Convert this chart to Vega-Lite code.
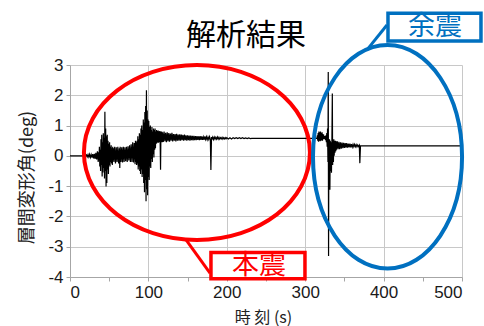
{
  "$schema": "https://vega.github.io/schema/vega-lite/v6.json",
  "autosize": "none",
  "width": 392,
  "height": 212,
  "padding": {"left": 70, "top": 65, "right": 22, "bottom": 49},
  "background": "white",
  "title": {"text": "解析結果", "font": "Noto Sans CJK JP", "fontSize": 30, "fontWeight": "normal", "color": "#000000", "frame": "group", "anchor": "middle", "dx": -20, "dy": 46, "offset": 6},
  "config": {
    "view": {"stroke": null},
    "axis": {
      "grid": true, "gridColor": "#c8c8c8", "gridWidth": 1, "domain": true, "domainColor": "#a6a6a6", "ticks": true, "tickColor": "#a6a6a6", "tickSize": 4,
      "labelFont": "Liberation Sans", "labelFontSize": 17, "labelColor": "#1a1a1a", "labelPadding": 3, "labelOverlap": false,
      "titleFont": "Noto Sans CJK JP", "titleFontWeight": "normal", "titleColor": "#222222"
    }
  },
  "datasets": {
    "wave": [
      {"t":0,"v":0},{"t":20,"v":0},{"t":21,"v":0.03},{"t":22,"v":-0.03},{"t":23,"v":0.04},{"t":24,"v":-0.04},{"t":25,"v":0.05},{"t":26,"v":-0.05},{"t":27,"v":0.04},{"t":28,"v":-0.06},{"t":29,"v":0.06},{"t":30,"v":-0.08},{"t":31,"v":0.07},{"t":32,"v":-0.1},{"t":33,"v":0.1},{"t":34,"v":-0.12},{"t":35,"v":0.15},{"t":36,"v":-0.2},{"t":36.5,"v":0.12},
      {"t":37,"v":-0.15},{"t":37.5,"v":0.3},{"t":38,"v":-0.35},{"t":38.5,"v":0.2},{"t":39,"v":-0.5},{"t":39.5,"v":0.55},{"t":40,"v":-0.3},{"t":40.5,"v":0.7},{"t":41,"v":-0.68},{"t":41.5,"v":0.45},{"t":42,"v":-0.55},{"t":42.5,"v":0.75},{"t":43,"v":-0.4},{"t":43.5,"v":0.6},{"t":44,"v":-0.75},{"t":44.5,"v":1.46},{"t":45,"v":-0.5},{"t":45.5,"v":0.9},{"t":46,"v":-1.01},{"t":46.5,"v":0.65},{"t":47,"v":-0.9},{"t":47.5,"v":0.7},{"t":48,"v":-0.45},{"t":48.5,"v":0.5},{"t":49,"v":-0.6},{"t":49.5,"v":0.4},{"t":50,"v":-0.3},{"t":50.5,"v":0.45},{"t":51,"v":-0.35},{"t":51.5,"v":0.3},{"t":52,"v":-0.2},{"t":52.5,"v":0.35},{"t":53,"v":-0.25},{"t":53.5,"v":0.25},{"t":54,"v":-0.3},{"t":54.5,"v":0.3},{"t":55,"v":-0.15},{"t":55.5,"v":0.25},{"t":56,"v":-0.2},
      {"t":57,"v":0.3},{"t":58,"v":-0.25},{"t":59,"v":0.28},{"t":60,"v":-0.2},{"t":61,"v":0.3},{"t":62,"v":-0.25},{"t":63,"v":0.25},{"t":63.5,"v":-0.4},{"t":64,"v":0.3},{"t":65,"v":-0.2},{"t":66,"v":0.28},{"t":67,"v":-0.22},{"t":68,"v":0.3},{"t":69,"v":-0.2},{"t":70,"v":0.28},{"t":71,"v":-0.18},{"t":72,"v":0.3},{"t":73,"v":-0.2},{"t":74,"v":0.32},{"t":75,"v":-0.15},{"t":76,"v":0.35},{"t":77,"v":-0.2},{"t":78,"v":0.38},{"t":79,"v":-0.2},{"t":80,"v":0.45},{"t":81,"v":-0.22},{"t":82,"v":0.42},{"t":83,"v":-0.28},{"t":83.5,"v":0.5},{"t":84,"v":-0.2},{"t":84.5,"v":0.45},
      {"t":85,"v":-0.3},{"t":85.5,"v":0.5},{"t":86,"v":-0.25},{"t":86.5,"v":0.65},{"t":87,"v":-0.45},{"t":87.5,"v":0.55},{"t":88,"v":-0.35},{"t":88.5,"v":0.75},{"t":89,"v":-0.5},{"t":89.5,"v":0.7},{"t":90,"v":-0.6},{"t":90.5,"v":0.9},{"t":91,"v":-0.45},{"t":91.5,"v":1.0},{"t":92,"v":-0.7},{"t":92.5,"v":0.85},{"t":93,"v":-0.6},{"t":93.5,"v":1.2},{"t":94,"v":-0.9},{"t":94.5,"v":1.1},{"t":95,"v":-1.2},{"t":95.5,"v":1.45},{"t":96,"v":-0.8},{"t":96.5,"v":1.65},{"t":97,"v":-1.5},{"t":97.5,"v":2.17},{"t":98,"v":-1.1},{"t":98.5,"v":1.5},{"t":99,"v":-1.3},{"t":99.5,"v":1.2},{"t":100,"v":-0.7},{"t":100.5,"v":1.15},{"t":101,"v":-0.8},{"t":101.5,"v":0.95},{"t":102,"v":-0.35},{"t":102.5,"v":1.0},{"t":103,"v":-0.4},{"t":103.5,"v":0.85},{"t":104,"v":-0.1},{"t":104.5,"v":0.95},{"t":105,"v":-0.2},{"t":105.5,"v":0.8},{"t":106,"v":0.05},{"t":106.5,"v":0.9},{"t":107,"v":-0.05},{"t":107.5,"v":0.85},{"t":108,"v":0.2},{"t":108.5,"v":0.9},{"t":109,"v":0.25},{"t":109.5,"v":0.8},{"t":110,"v":0.4},
      {"t":110.5,"v":0.85},{"t":111,"v":0.42},{"t":111.5,"v":0.82},{"t":112,"v":0.45},{"t":112.5,"v":0.84},{"t":113,"v":0.43},{"t":113.5,"v":0.8},{"t":114,"v":0.46},{"t":114.5,"v":0.82},{"t":115,"v":0.45},{"t":115.5,"v":-0.46},{"t":116,"v":0.8},{"t":116.5,"v":0.46},{"t":117,"v":0.8},{"t":117.5,"v":0.45},{"t":118,"v":0.78},{"t":119,"v":0.46},{"t":120,"v":0.8},{"t":121,"v":0.48},{"t":122,"v":0.76},{"t":123,"v":0.45},{"t":124,"v":0.78},{"t":125,"v":0.48},{"t":126,"v":0.75},{"t":127,"v":0.47},{"t":128,"v":0.74},{"t":129,"v":0.5},{"t":130,"v":0.76},{"t":131,"v":0.48},{"t":132,"v":0.72},{"t":133,"v":0.5},{"t":134,"v":0.72},{"t":135,"v":0.48},{"t":136,"v":0.73},{"t":137,"v":0.5},{"t":138,"v":0.7},{"t":139,"v":0.5},{"t":140,"v":0.71},{"t":141,"v":0.5},{"t":142,"v":0.7},{"t":143,"v":0.52},{"t":144,"v":0.69},{"t":145,"v":0.5},{"t":146,"v":0.7},{"t":147,"v":0.52},{"t":148,"v":0.68},{"t":149,"v":0.5},{"t":150,"v":0.68},{"t":151,"v":0.52},{"t":152,"v":0.67},{"t":153,"v":0.5},{"t":154,"v":0.67},{"t":155,"v":0.52},{"t":156,"v":0.66},{"t":157,"v":0.51},{"t":158,"v":0.66},{"t":159,"v":0.52},{"t":160,"v":0.65},{"t":161,"v":0.52},{"t":162,"v":0.65},{"t":163,"v":0.53},{"t":164,"v":0.64},{"t":165,"v":0.52},{"t":166,"v":0.65},{"t":167,"v":0.53},{"t":168,"v":0.64},{"t":169,"v":0.53},{"t":170,"v":0.63},{"t":171,"v":0.53},{"t":172,"v":0.64},{"t":173,"v":0.54},{"t":174,"v":0.63},{"t":175,"v":0.53},{"t":176,"v":0.62},{"t":177,"v":0.54},{"t":178,"v":0.63},{"t":179,"v":0.54},{"t":179.7,"v":-0.47},{"t":180.5,"v":0.62},{"t":181,"v":0.54},{"t":182,"v":0.62},{"t":183,"v":0.54},{"t":184,"v":0.62},{"t":185,"v":0.55},{"t":186,"v":0.61},{"t":187,"v":0.55},{"t":188,"v":0.62},{"t":189,"v":0.55},{"t":190,"v":0.61},{"t":191,"v":0.55},{"t":192,"v":0.6},{"t":193,"v":0.56},{"t":194,"v":0.61},{"t":195,"v":0.55},{"t":196,"v":0.6},{"t":197,"v":0.56},{"t":198,"v":0.6},{"t":199,"v":0.56},{"t":200,"v":0.6},{"t":202,"v":0.56},{"t":204,"v":0.6},{"t":206,"v":0.56},{"t":208,"v":0.6},{"t":210,"v":0.57},{"t":212,"v":0.6},{"t":214,"v":0.57},{"t":216,"v":0.6},{"t":218,"v":0.57},{"t":220,"v":0.6},{"t":222,"v":0.57},{"t":224,"v":0.59},{"t":226,"v":0.57},{"t":228,"v":0.59},{"t":230,"v":0.57},{"t":232,"v":0.58},{"t":310,"v":0.58},
      {"t":315,"v":0.58},{"t":315.5,"v":0.68},{"t":316,"v":0.5},{"t":316.5,"v":0.75},{"t":317,"v":0.47},{"t":317.5,"v":0.8},{"t":318,"v":0.5},{"t":318.5,"v":0.78},{"t":319,"v":0.48},{"t":319.5,"v":0.8},{"t":320,"v":0.5},{"t":320.5,"v":0.75},{"t":321,"v":0.52},{"t":321.5,"v":0.78},{"t":322,"v":0.5},{"t":322.5,"v":0.72},{"t":323,"v":0.55},{"t":323.5,"v":0.7},{"t":324,"v":0.55},{"t":324.5,"v":0.65},{"t":325,"v":0.55},{"t":325.5,"v":0.65},{"t":326,"v":0.52},{"t":326.5,"v":0.68},{"t":327,"v":0.45},{"t":327.5,"v":0.75},{"t":328,"v":0.3},{"t":328.5,"v":0.9},{"t":329,"v":-0.2},{"t":329.4,"v":2.77},{"t":329.8,"v":-3.31},{"t":330.2,"v":0.5},{"t":330.6,"v":-0.4},{"t":331,"v":0.55},{"t":331.5,"v":-1.12},{"t":332,"v":0.5},{"t":332.5,"v":-0.5},{"t":333,"v":0.45},{"t":333.5,"v":-0.56},{"t":334,"v":0.4},{"t":334.6,"v":2.06},{"t":335,"v":-0.3},{"t":335.5,"v":0.5},{"t":336,"v":-0.2},{"t":336.5,"v":0.55},{"t":337,"v":0.0},{"t":337.5,"v":0.5},{"t":338,"v":0.1},{"t":338.5,"v":0.5},{"t":339,"v":0.15},{"t":339.5,"v":0.48},{"t":340,"v":0.2},{"t":341,"v":0.48},{"t":342,"v":0.22},{"t":343,"v":0.46},{"t":344,"v":0.22},{"t":345,"v":0.45},{"t":346,"v":0.24},{"t":347,"v":0.44},{"t":348,"v":0.25},{"t":349,"v":0.43},{"t":350,"v":0.26},{"t":351,"v":0.42},{"t":352,"v":0.27},{"t":353,"v":0.42},{"t":354,"v":0.27},{"t":355,"v":0.4},{"t":356,"v":0.28},{"t":357,"v":0.4},{"t":358,"v":0.28},{"t":359,"v":0.39},{"t":360,"v":0.29},{"t":361,"v":0.38},{"t":362,"v":0.3},{"t":363,"v":0.38},{"t":364,"v":0.3},{"t":365,"v":0.37},{"t":366,"v":0.3},{"t":367,"v":0.36},{"t":368,"v":0.31},{"t":369,"v":0.35},{"t":369.7,"v":-0.24},{"t":370.5,"v":0.33},{"t":500,"v":0.33}
    ]
  },
  "encoding": {
    "x": {"field": "t", "type": "quantitative", "scale": {"domain": [0, 500], "nice": false, "zero": false},
      "axis": {"values": [0,50,100,150,200,250,300,350,400,450,500], "grid": true, "domain": true, "ticks": true,
        "labelExpr": "datum.value % 100 === 0 ? toString(datum.value) : ''",
        "gridOpacity": {"condition": {"test": "datum.value % 100 !== 0", "value": 0}, "value": 1},
        "title": "時 刻 (s)", "titleFontSize": 16, "titleX": 193, "titleY": 32, "titleBaseline": "top", "titleAlign": "center"}},
    "y": {"field": "v", "type": "quantitative", "scale": {"domain": [-4, 3], "nice": false, "zero": false},
      "axis": {"values": [-4,-3,-2,-1,0,1,2,3], "grid": true, "domain": true, "ticks": true, "labelExpr": "toString(datum.value)",
        "title": "層間変形角(deg)", "titleFontSize": 18, "titleX": -43, "titleY": 112, "titleAngle": -90, "titleBaseline": "middle", "titleAlign": "center"}}
  },
  "layer": [
    {
      "data": {"name": "wave"},
      "mark": {"type": "line", "color": "#000000", "strokeWidth": 1.2, "interpolate": "linear"}
    },
    {
      "data": {"values": [{"t": 161.9, "v": 0.11}]},
      "mark": {"type": "point", "filled": false, "opacity": 1, "stroke": "#FF0000", "strokeWidth": 4, "size": 51076,
        "shape": "M -1 0 C -1 -0.4275 -0.5523 -0.774 0 -0.774 C 0.5523 -0.774 1 -0.4275 1 0 C 1 0.4275 0.5523 0.774 0 0.774 C -0.5523 0.774 -1 0.4275 -1 0 Z"}
    },
    {
      "data": {"values": [{"t": 405, "v": -0.03}]},
      "mark": {"type": "point", "filled": false, "opacity": 1, "stroke": "#0070C0", "strokeWidth": 4, "size": 49952,
        "shape": "M -0.667 0 C -0.667 -0.5523 -0.3684 -1 0 -1 C 0.3684 -1 0.667 -0.5523 0.667 0 C 0.667 0.5523 0.3684 1 0 1 C -0.3684 1 -0.667 0.5523 -0.667 0 Z"}
    },
    {
      "data": {"values": [
        {"kind": "本震", "t": 148.3, "v": -2.78, "t2": 178.6, "v2": -3.87},
        {"kind": "余震", "t": 378.8, "v": 3.5, "t2": 404.3, "v2": 4.32}
      ]},
      "mark": {"type": "rule", "strokeWidth": 3},
      "encoding": {
        "x2": {"field": "t2"},
        "y2": {"field": "v2"},
        "color": {"field": "kind", "type": "nominal", "scale": {"domain": ["本震", "余震"], "range": ["#FF0000", "#0070C0"]}, "legend": null}
      }
    },
    {
      "data": {"values": [
        {"kind": "本震", "t": 179.8, "t2": 299.7, "v": -3.19, "v2": -4.06},
        {"kind": "余震", "t": 405.6, "t2": 524.2, "v": 4.71, "v2": 3.79}
      ]},
      "mark": {"type": "rect", "fill": "#ffffff", "strokeWidth": 3.5},
      "encoding": {
        "x2": {"field": "t2"},
        "y2": {"field": "v2"},
        "stroke": {"field": "kind", "type": "nominal", "scale": {"domain": ["本震", "余震"], "range": ["#FF0000", "#0070C0"]}, "legend": null}
      }
    },
    {
      "data": {"values": [
        {"kind": "本震", "t": 241.1, "v": -3.65},
        {"kind": "余震", "t": 465.6, "v": 4.24}
      ]},
      "mark": {"type": "text", "font": "Noto Sans CJK JP", "fontSize": 27, "align": "center", "baseline": "middle"},
      "encoding": {
        "text": {"field": "kind"},
        "color": {"field": "kind", "type": "nominal", "scale": {"domain": ["本震", "余震"], "range": ["#FF0000", "#0070C0"]}, "legend": null}
      }
    }
  ]
}
